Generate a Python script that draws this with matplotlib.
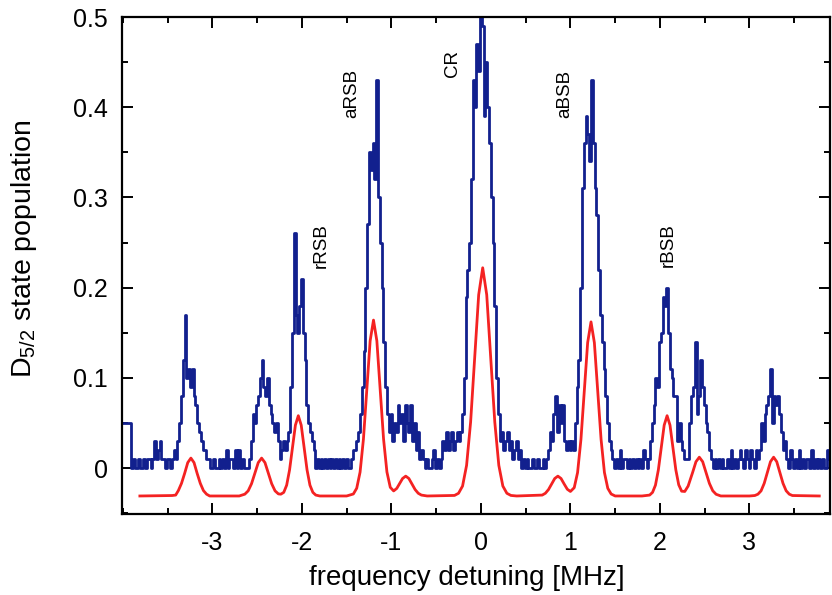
import numpy as np
import matplotlib
matplotlib.use('Agg')
import matplotlib.pyplot as plt
from matplotlib.ticker import MultipleLocator

plt.rcParams['font.family'] = ['Liberation Sans', 'DejaVu Sans']
plt.rcParams['mathtext.default'] = 'regular'

# measured D5/2 population in percent, sampled every 0.02 MHz from -4.00 MHz
blue_start = -4.0
blue_step = 0.02
blue_pct = [
    5, 5, 5, 5, 5, 0, 1, 0, 0, 1, 0, 0, 1, 0, 1, 1, 0, 1, 3, 1,          # -4.00
    2, 3, 1, 1, 0, 1, 1, 0, 1, 2, 1, 3, 5, 8, 12, 17, 10, 11, 9, 11,     # -3.60
    8, 7, 5, 4, 3, 2, 2, 1, 1, 0,                                        # -3.20
    0, 1, 0, 0, 1, 0, 1, 0, 2, 0, 1, 1, 0, 2, 0, 2, 0, 1, 0, 0,          # -3.00
    0, 1, 3, 6, 5, 7, 8, 10, 12, 9, 8, 10, 7, 6, 5, 4, 5, 3, 1, 2,       # -2.60
    3, 2, 3, 4, 9, 15, 26, 17, 15, 18,                                   # -2.20
    21, 15, 12, 7, 5, 4, 3, 2, 0, 1, 0, 1, 0, 1, 0, 1, 0, 1, 0, 1,       # -2.00
    0, 1, 0, 1, 0, 1, 0, 0, 1, 2, 2, 3, 4, 6, 9, 13, 20, 27, 35, 33,     # -1.60
    36, 32, 43, 30, 25, 20, 14, 9, 6, 4,                                 # -1.20
    6, 3, 5, 4, 7, 5, 6, 3, 7, 5, 4, 7, 3, 5, 2, 4, 1, 2, 1, 0,          # -1.00
    1, 0, 0, 1, 2, 0, 1, 0, 1, 3, 2, 4, 2, 3, 4, 2, 3, 4, 3, 4,          # -0.60
    6, 10, 19, 22, 25, 32, 43, 40, 47, 44,                               # -0.20
    50, 49, 39, 45, 40, 36, 30, 25, 18, 10, 6, 3, 4, 2, 3, 4, 2, 3, 1, 2,  # 0.00
    3, 1, 2, 0, 1, 0, 1, 0, 0, 1, 0, 0, 1, 0, 0, 1, 0, 1, 2, 4,          # 0.40
    3, 6, 8, 4, 7, 5, 7, 3, 2, 3,                                        # 0.80
    2, 3, 2, 5, 9, 12, 20, 31, 36, 39, 37, 34, 43, 36, 31, 28, 22, 17, 14, 11,  # 1.00
    8, 5, 3, 2, 1, 0, 1, 0, 2, 0, 1, 1, 0, 1, 0, 1, 0, 1, 0, 1,          # 1.40
    0, 2, 1, 0, 1, 3, 5, 7, 10, 9,                                       # 1.80
    14, 15, 19, 18, 20, 15, 11, 10, 8, 8, 3, 5, 3, 2, 1, 1, 1, 5, 8, 9,  # 2.00
    14, 6, 8, 12, 9, 7, 5, 4, 2, 1, 0, 1, 0, 1, 0, 1, 0, 0, 1, 0,        # 2.40
    2, 0, 1, 0, 1, 2, 1, 0, 2, 1,                                        # 2.80
    0, 2, 1, 0, 2, 1, 2, 5, 3, 6, 7, 8, 11, 5, 8, 7, 8, 6, 4, 2,         # 3.00
    3, 1, 0, 2, 1, 0, 1, 0, 2, 0, 1, 0, 1, 1, 0, 2, 0, 1, 0, 1,          # 3.40
    0, 1, 0, 0, 2, 1,                                                    # 3.80
]

# calculated spectrum (shifted down)
red_freq = [-3.81, -3.45, -3.41, -3.38, -3.345, -3.31, -3.275, -3.24, -3.205, -3.17,
            -3.135, -3.10, -3.065, -3.03, -2.70, -2.6375, -2.60, -2.5625, -2.525, -2.4875,
            -2.45, -2.4125, -2.375, -2.3375, -2.30, -2.2625, -2.235, -2.2025, -2.17, -2.1375,
            -2.105, -2.0725, -2.04, -2.0075, -1.975, -1.9425, -1.91, -1.8775, -1.845, -1.80,
            -1.50, -1.425, -1.3875, -1.35, -1.3125, -1.275, -1.2375, -1.2, -1.1625, -1.125,
            -1.0875, -1.05, -1.0125, -0.975, -0.94, -0.905, -0.875, -0.84, -0.805, -0.77,
            -0.735, -0.70, -0.665, -0.60, -0.295, -0.25, -0.205, -0.16, -0.115, -0.07,
            -0.025, 0.02, 0.065, 0.11, 0.155, 0.20, 0.245, 0.29, 0.335, 0.40,
            0.685, 0.72, 0.755, 0.79, 0.825, 0.86, 0.895, 0.93, 0.965, 1.00,
            1.0425, 1.08, 1.1175, 1.155, 1.1925, 1.23, 1.2675, 1.305, 1.3425, 1.38,
            1.4175, 1.455, 1.50, 1.80, 1.885, 1.9175, 1.95, 1.9825, 2.015, 2.0475,
            2.08, 2.1125, 2.145, 2.1775, 2.21, 2.2425, 2.2775, 2.315, 2.365, 2.4025,
            2.44, 2.4775, 2.515, 2.5525, 2.59, 2.6275, 2.68, 3.00, 3.06, 3.095,
            3.13, 3.165, 3.20, 3.235, 3.27, 3.305, 3.34, 3.375, 3.41, 3.445,
            3.48, 3.78]
red_pop = [-0.031, -0.0305, -0.030, -0.025, -0.017, -0.006, 0.006, 0.011, 0.006, -0.006,
           -0.017, -0.025, -0.029, -0.031, -0.031, -0.029, -0.0253, -0.0174, -0.0055, 0.006,
           0.011, 0.006, -0.0055, -0.0174, -0.0253, -0.0287, -0.029, -0.027, -0.019, -0.002,
           0.023, 0.0475, 0.058, 0.0475, 0.023, -0.002, -0.019, -0.027, -0.030, -0.031,
           -0.031, -0.0288, -0.0224, -0.0046, 0.032, 0.087, 0.141, 0.164, 0.141, 0.087,
           0.032, -0.0044, -0.0214, -0.0254, -0.0226, -0.0167, -0.0116, -0.009, -0.0116, -0.0177,
           -0.0239, -0.028, -0.030, -0.031, -0.0304, -0.028, -0.020, 0.003, 0.051, 0.122,
           0.192, 0.222, 0.192, 0.122, 0.051, 0.003, -0.020, -0.028, -0.0304, -0.031,
           -0.030, -0.028, -0.0239, -0.0177, -0.0116, -0.009, -0.0116, -0.0177, -0.0235, -0.026,
           -0.0218, -0.005, 0.0317, 0.086, 0.139, 0.162, 0.139, 0.086, 0.0317, -0.005,
           -0.0225, -0.0288, -0.031, -0.031, -0.030, -0.027, -0.019, -0.002, 0.023, 0.0475,
           0.058, 0.0475, 0.023, -0.002, -0.0186, -0.0257, -0.026, -0.020, -0.005, 0.007,
           0.012, 0.007, -0.005, -0.017, -0.0252, -0.0291, -0.031, -0.031, -0.0305, -0.029,
           -0.0253, -0.017, -0.005, 0.007, 0.012, 0.007, -0.005, -0.017, -0.0252, -0.029,
           -0.0305, -0.031]

peak_labels = ['rRSB', 'aRSB', 'CR', 'aBSB', 'rBSB']
label_x = [-1.78, -1.44, -0.32, 0.94, 2.09]
label_y = [0.247, 0.415, 0.448, 0.415, 0.247]

blue_pop = np.array(blue_pct) / 100.0
blue_freq = blue_start + blue_step * np.arange(len(blue_pop))

fig = plt.figure(figsize=(8.32, 5.95), dpi=100)
ax = fig.add_axes([0.1466, 0.1361, 0.851, 0.8353])

ax.plot(blue_freq, blue_pop, color='#12208e', lw=2.0, drawstyle='steps-mid')
ax.plot(red_freq, red_pop, color='#f42222', lw=2.0)

for txt, xx, yy in zip(peak_labels, label_x, label_y):
    ax.text(xx, yy, txt, rotation=90, ha='center', va='center', fontsize=13.5)

ax.set_xlim(-4.01, 3.90)
ax.set_ylim(-0.051, 0.5)
ax.xaxis.set_major_locator(MultipleLocator(1))
ax.xaxis.set_minor_locator(MultipleLocator(0.5))
ax.yaxis.set_major_locator(MultipleLocator(0.1))
ax.yaxis.set_minor_locator(MultipleLocator(0.05))
ax.set_xticks([-3, -2, -1, 0, 1, 2, 3])
ax.set_xticklabels(['-3', '-2', '-1', '0', '1', '2', '3'])
ax.set_yticks([0, 0.1, 0.2, 0.3, 0.4, 0.5])
ax.set_yticklabels(['0', '0.1', '0.2', '0.3', '0.4', '0.5'])

ax.tick_params(which='both', direction='in', top=True, right=True, width=1.4)
ax.tick_params(which='major', length=8, labelsize=18)
ax.tick_params(which='minor', length=4.5)
ax.tick_params(axis='x', pad=12)
ax.tick_params(axis='y', pad=10)
for sp in ax.spines.values():
    sp.set_linewidth(1.6)

ax.set_xlabel('frequency detuning [MHz]', fontsize=20, va='center')
ax.set_ylabel('D$_{5/2}$ state population', fontsize=20.5, va='center')
ax.xaxis.set_label_coords(0.487, -0.129)
ax.yaxis.set_label_coords(-0.138, 0.533)

fig.savefig('out.png', dpi=100)
